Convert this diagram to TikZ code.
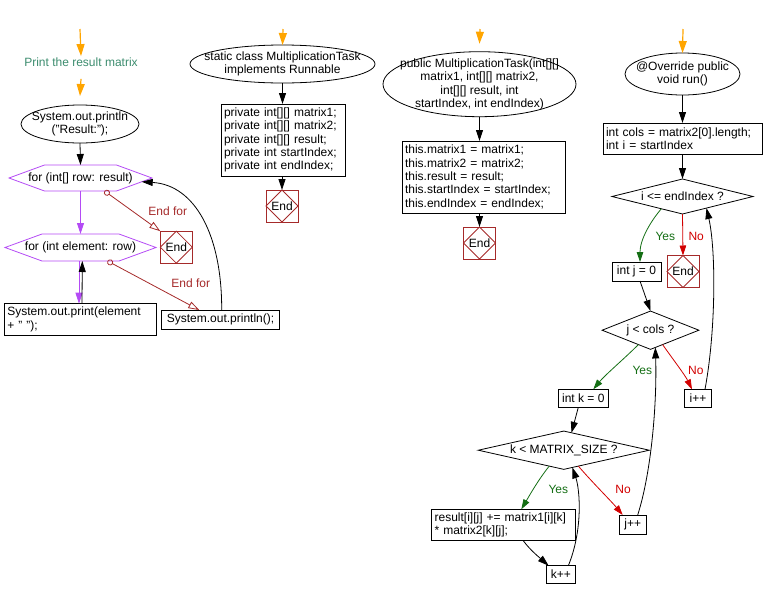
\documentclass[tikz,border=0pt]{standalone}
\usepackage{fontspec}
\setmainfont{Liberation Sans}
\usetikzlibrary{arrows.meta,calc}
\definecolor{orng}{RGB}{255,165,0}
\definecolor{mag}{RGB}{180,75,245}
\definecolor{endc}{RGB}{165,42,42}
\definecolor{yesc}{RGB}{20,110,20}
\definecolor{noc}{RGB}{210,0,0}
\definecolor{teal2}{RGB}{60,140,110}
\newcommand\mkEnd[2]{\node[endbox] (#1) at (#2) {End};\draw[endc] (#1.north)--(#1.east)--(#1.south)--(#1.west)--cycle;}
\begin{document}
\begin{tikzpicture}[x=1pt,y=-1pt,line width=0.8pt,
  font=\fontsize{12}{13.4}\selectfont,
  base/.style={inner sep=0pt,outer sep=0pt},
  lbox/.style={base,draw,align=left,inner xsep=3pt},
  cbox/.style={base,draw,align=center},
  hold/.style={base,align=center},
  endbox/.style={base,draw=endc,minimum width=32,minimum height=32},
  arr/.style={-{Triangle[length=11pt,width=7pt]}},
  oarr/.style={orng,line width=1.2pt,-{Triangle[length=12pt,width=8pt]}},
  marr/.style={arr,mag},
  yarr/.style={yesc,-{Triangle[length=10pt,width=6.5pt]}},
  narr/.style={noc,-{Triangle[length=10pt,width=6.5pt]}},
  efor/.style={endc,{Circle[open,length=6pt]}-{Triangle[open,length=11pt,width=7pt]}},
  lab/.style={base}]
\useasboundingbox (0,0) rectangle (763,598);

% ---------- column 1
\coordinate (s1) at (80,29);
\node[hold,text=teal2,inner ysep=2pt] (T) at (81,62.5) {Print the result matrix};
\node[hold,minimum width=118,minimum height=38] (E1) at (80,124) {System.out.println\\("Result:");};
\draw (E1.center) ellipse [x radius=59,y radius=19];
\node[hold,minimum width=143,minimum height=26] (H1) at (80.5,178) {for (int[] row: result)};
\draw[mag] (H1.west) -- ($(H1.north west)+(35.5,0)$) -- ($(H1.north east)+(-35.5,0)$) -- (H1.east) -- ($(H1.south east)+(-35.5,0)$) -- ($(H1.south west)+(35.5,0)$) -- cycle;
\node[hold,minimum width=151,minimum height=27] (H2) at (80.5,247.5) {for (int element: row)};
\draw[mag] (H2.west) -- ($(H2.north west)+(37,0)$) -- ($(H2.north east)+(-37,0)$) -- (H2.east) -- ($(H2.south east)+(-37,0)$) -- ($(H2.south west)+(37,0)$) -- cycle;
\node[lbox,text width=145.7,minimum height=31.3] (B1) at (80.2,319.3) {System.out.print(element\\{}+ " ");};
\node[cbox,minimum width=117.6,minimum height=19.3] (B2) at (220.5,319.7) {System.out.println();};
\mkEnd{N1}{176.3,247.2}

\draw[oarr] (s1) -- (T.north);
\draw[oarr] ($(T.south)+(0,10)$) -- ($(E1.north)+(0,-9)$);
\draw[arr] (E1.south) -- (H1.north);
\draw[marr] (H1.south) -- (H2.north);
\draw[marr] ($(H2.south)+(-1.5,0)$) -- ($(B1.north)+(-1.2,0)$);
\draw[arr] ($(B1.north)+(1.8,0)$) -- ($(H2.south)+(1.8,0)$);
\draw[efor] ($(H1.south)+(24,0)$) -- (N1.north west);
\node[lab,text=endc] (L1) at (167.7,211.7) {End for};
\draw[efor] ($(H2.south)+(27,0)$) -- ($(B2.north west)+(37.6,0)$);
\node[lab,text=endc] (L2) at (190.7,283.3) {End for};
\coordinate (H1br) at ($(H1.south east)+(-35.5,0)$);
\draw[arr] ($(B2.north)+(1.2,0)$) .. controls (222,235) and (195,185) .. ($(H1.east)!0.29!(H1br)$);

% ---------- column 2
\coordinate (s2) at (283,29);
\node[hold,minimum width=185,minimum height=38] (E2) at (282.5,64) {static class MultiplicationTask\\implements Runnable};
\draw (E2.center) ellipse [x radius=92.5,y radius=19];
\node[lbox,text width=118,minimum height=72] (B3) at (283,140) {private int[][] matrix1;\\private int[][] matrix2;\\private int[][] result;\\private int startIndex;\\private int endIndex;};
\mkEnd{N2}{282,206}
\draw[oarr] (s2) -- (E2.north);
\draw[arr] (E2.south) -- (E2.south |- B3.north);
\draw[arr] (B3.south -| N2.north) -- (N2.north);

% ---------- column 3
\coordinate (s3) at (480,29);
\node[hold,minimum width=193,minimum height=65] (E3) at (479.5,84.2) {public MultiplicationTask(int[][]\\matrix1, int[][] matrix2,\\int[][] result, int\\startIndex, int endIndex)};
\draw (E3.center) ellipse [x radius=96.5,y radius=32.5];
\node[lbox,text width=157,minimum height=72] (B4) at (483.5,177) {this.matrix1 = matrix1;\\this.matrix2 = matrix2;\\this.result = result;\\this.startIndex = startIndex;\\this.endIndex = endIndex;};
\mkEnd{N3}{479.5,243}
\draw[oarr] (s3) -- ($(E3.north)+(0,-8)$);
\draw[arr] (E3.south) -- (E3.south |- B4.north);
\draw[arr] (B4.south -| N3.north) -- (N3.north);

% ---------- column 4
\coordinate (s4) at (683,29);
\node[hold,minimum width=115,minimum height=42] (E4) at (682.5,74) {@Override public\\void run()};
\draw (E4.center) ellipse [x radius=57.5,y radius=21];
\node[lbox,text width=153,minimum height=31] (B5) at (682.5,138.5) {int cols = matrix2[0].length;\\int i = startIndex};
\node[hold,minimum width=141,minimum height=35] (D1) at (682.5,196.5) {i <= endIndex ?};
\draw (D1.north)--(D1.east)--(D1.south)--(D1.west)--cycle;
\node[cbox,minimum width=49,minimum height=19] (J0) at (636.5,271.5) {int j = 0};
\mkEnd{N4}{683,271.5}
\node[hold,minimum width=96.7,minimum height=38.3] (D2) at (650.5,330.2) {j < cols ?};
\draw (D2.north)--(D2.east)--(D2.south)--(D2.west)--cycle;
\node[cbox,minimum width=27.4,minimum height=18] (IP) at (698,398.3) {i++};
\node[cbox,minimum width=50,minimum height=18] (K0) at (583.3,398.3) {int k = 0};
\node[hold,minimum width=171,minimum height=38.3] (D3) at (563.8,450.2) {k < MATRIX\_SIZE ?};
\draw (D3.north)--(D3.east)--(D3.south)--(D3.west)--cycle;
\node[lbox,text width=137.3,minimum height=31.4] (RS) at (503.3,525) {result[i][j] += matrix1[i][k]\\{}* matrix2[k][j];};
\node[cbox,minimum width=26.7,minimum height=19] (JP) at (632.7,524.5) {j++};
\node[cbox,minimum width=28.3,minimum height=17.6] (KP) at (560.8,574.5) {k++};

\draw[oarr] (s4) -- (E4.north);
\draw[arr] (E4.south) -- (B5.north);
\draw[arr] (B5.south) -- (D1.north);
\draw[yarr] ($(D1.south)!0.3!(D1.west)$) .. controls (650,222) and (640,240) .. ($(J0.north)+(3.5,0)$);
\node[lab,text=yesc] (Y1) at (665.3,236) {Yes};
\draw[narr] (D1.south) -- (N4.north);
\node[lab,text=noc] (X1) at (696.2,236) {No};
\draw[arr] ($(J0.south)+(3.5,0)$) -- (D2.north);
\draw[yarr] ($(D2.south)!0.25!(D2.west)$) .. controls (625,358) and (605,375) .. ($(K0.north)+(10,0)$);
\node[lab,text=yesc] (Y2) at (642.3,370) {Yes};
\draw[narr] ($(D2.south)!0.25!(D2.east)$) .. controls (672,358) and (685,375) .. ($(IP.north)+(-6,0)$);
\node[lab,text=noc] (X2) at (695.8,370) {No};
\draw[arr] ($(IP.north)+(7,0)$) .. controls (716,330) and (716,250) .. ($(D1.south)!0.34!(D1.east)$);
\draw[arr] ($(K0.south)+(-5,0)$) -- ($(D3.north)!0.09!(D3.east)$);
\draw[yarr] ($(D3.south)!0.17!(D3.west)$) .. controls (538,480) and (528,498) .. ($(RS.north)+(18,0)$);
\node[lab,text=yesc] (Y3) at (558.3,489.3) {Yes};
\draw[narr] ($(D3.south)!0.17!(D3.east)$) .. controls (592,482) and (612,502) .. ($(JP.north)+(-10,0)$);
\node[lab,text=noc] (X3) at (623,489.3) {No};
\draw[arr] ($(JP.north)+(5,0)$) .. controls (652,470) and (657,400) .. ($(D2.south)!0.1!(D2.east)$);
\draw[arr] ($(RS.south)+(20,0)$) .. controls (530,550) and (540,558) .. ($(KP.north west)+(2,0)$);
\draw[arr] ($(KP.north)+(7.5,0)$) .. controls (583,530) and (580,490) .. ($(D3.south)!0.1!(D3.east)$);
\end{tikzpicture}
\end{document}
